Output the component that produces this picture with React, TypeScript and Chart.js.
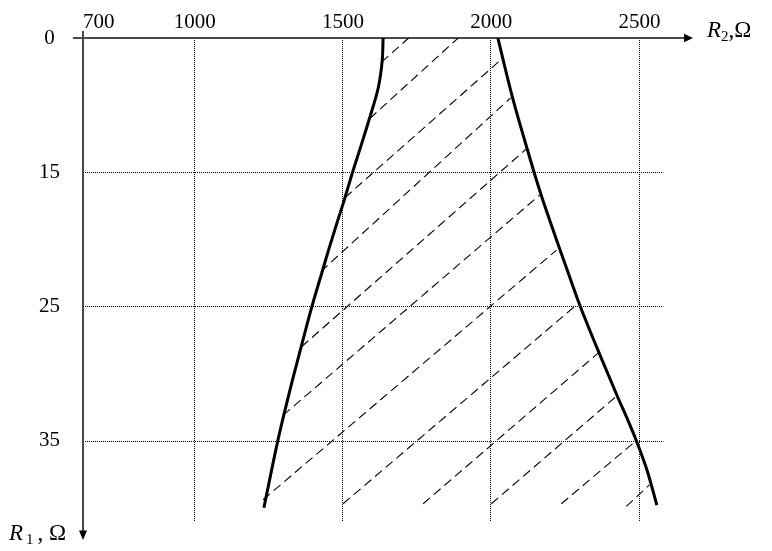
import React, { useEffect, useRef } from 'react';
import { Chart, registerables, LinearScale } from 'chart.js';

// ---- axis ticks ----
const R2_TICKS = [700, 1000, 1500, 2000, 2500]; // top axis, R2 (Ω)
const R1_TICKS = [0, 15, 25, 35]; // left axis (downwards), R1 (Ω)

// uneven axis steps: value -> equally spaced station
const R2_BREAK_VALUES = [700, 1000, 1500];
const R2_BREAK_UNITS = [0, 0.754, 1.754];
const R1_BREAK_VALUES = [0, 15, 25, 35];
const R1_BREAK_UNITS = [0, 1, 2, 3];
const R2_MAX = 2680;
const R1_MAX = 42.4;
const GRID_R2_END = 2580;
const GRID_R1_END = 41;

// ---- boundary curves ----
const LEFT_R1 = [0, 2.5, 5.5, 9, 12.2, 15, 17, 18.8, 20.8, 22.3, 25, 27.9, 30.5, 33.1, 35, 40];
const LEFT_R2 = [1635, 1632, 1619, 1589, 1559, 1532, 1505, 1479, 1451, 1431, 1395, 1360, 1329, 1300, 1280, 1233];

const RIGHT_R1 = [0, 2.9, 6.6, 11.4, 15, 16.9, 19.8, 22.3, 25, 28.5, 31.8, 33.5, 35, 37.2, 39.8];
const RIGHT_R2 = [2022, 2043, 2071, 2112, 2144, 2171, 2216, 2256, 2300, 2364, 2427, 2461, 2489, 2525, 2558];

// ---- hatch lines (start / end) ----
const HATCH_R2_FROM = [1630, 1590, 1506, 1425, 1360, 1298, 1230, 1500, 1770, 2000, 2236, 2455];
const HATCH_R1_FROM = [2.7, 9.0, 16.9, 22.4, 28.0, 33.1, 39.4, 39.7, 39.7, 39.7, 39.7, 39.9];
const HATCH_R2_TO = [1721, 1888, 2030, 2065, 2118, 2163, 2220, 2281, 2359, 2421, 2483, 2533];
const HATCH_R1_TO = [0, 0, 2.5, 6.7, 12.4, 16.7, 20.8, 25.0, 28.5, 31.7, 35.1, 38.3];

// ---- axis names ----
const X_TITLE = ['R', '2', ',Ω'];
const Y_TITLE = ['R', '1', ', Ω'];

const SERIF = "'Liberation Serif', 'Times New Roman', 'DejaVu Serif', serif";

type Breaks = { values: number[]; units: number[] };
const BREAKS: Record<string, Breaks> = {
  x: { values: R2_BREAK_VALUES, units: R2_BREAK_UNITS },
  y: { values: R1_BREAK_VALUES, units: R1_BREAK_UNITS },
};

function seg(v: number, arr: number[]) {
  const n = arr.length;
  if (v >= arr[n - 1]) return n - 2;
  let i = 0;
  while (i < n - 2 && v > arr[i + 1]) i++;
  return i;
}
function toUnit(v: number, b: Breaks) {
  const i = seg(v, b.values);
  const t = (v - b.values[i]) / (b.values[i + 1] - b.values[i]);
  return b.units[i] + t * (b.units[i + 1] - b.units[i]);
}
function fromUnit(u: number, b: Breaks) {
  const i = seg(u, b.units);
  const t = (u - b.units[i]) / (b.units[i + 1] - b.units[i]);
  return b.values[i] + t * (b.values[i + 1] - b.values[i]);
}

class BrokenAxisScale extends LinearScale {
  static id = 'brokenAxis';
  static defaults = LinearScale.defaults;
  getPixelForValue(value: any) {
    if (value === null || value === undefined || Number.isNaN(value)) return NaN;
    const b = BREAKS[(this as any).id];
    const u0 = toUnit((this as any).min, b);
    const u1 = toUnit((this as any).max, b);
    return (this as any).getPixelForDecimal((toUnit(value, b) - u0) / (u1 - u0));
  }
  getValueForPixel(pixel: number) {
    const b = BREAKS[(this as any).id];
    const u0 = toUnit((this as any).min, b);
    const u1 = toUnit((this as any).max, b);
    return fromUnit(u0 + (this as any).getDecimalForPixel(pixel) * (u1 - u0), b);
  }
}

Chart.register(...registerables, BrokenAxisScale as any);

function line(ctx: CanvasRenderingContext2D, x0: number, y0: number, x1: number, y1: number) {
  ctx.beginPath();
  ctx.moveTo(x0, y0);
  ctx.lineTo(x1, y1);
  ctx.stroke();
}

function drawName(
  ctx: CanvasRenderingContext2D,
  parts: string[],
  x: number,
  base: number,
  gapR: number,
  gapSub: number
) {
  ctx.fillStyle = '#000';
  ctx.textBaseline = 'alphabetic';
  ctx.textAlign = 'left';
  ctx.font = `italic 23px ${SERIF}`;
  ctx.fillText(parts[0], x, base);
  x += ctx.measureText(parts[0]).width + gapR;
  ctx.font = `15px ${SERIF}`;
  ctx.fillText(parts[1], x, base + 4);
  x += ctx.measureText(parts[1]).width + gapSub;
  ctx.font = `23px ${SERIF}`;
  ctx.fillText(parts[2], x, base);
}

const decorPlugin = {
  id: 'axesDecor',
  beforeDatasetsDraw(chart: any) {
    const { ctx } = chart;
    const x = chart.scales.x;
    const y = chart.scales.y;
    const top = y.getPixelForValue(0);
    const left = x.getPixelForValue(R2_TICKS[0]);
    const right = x.getPixelForValue(R2_MAX);
    const bottom = y.getPixelForValue(R1_MAX);
    ctx.save();
    ctx.strokeStyle = '#000';
    ctx.lineWidth = 1;
    ctx.setLineDash([1, 1]);
    const gy1 = y.getPixelForValue(GRID_R1_END);
    for (const v of R2_TICKS.slice(1)) {
      const px = Math.round(x.getPixelForValue(v)) - 0.5;
      line(ctx, px, top, px, gy1);
    }
    const gx1 = x.getPixelForValue(GRID_R2_END);
    for (const v of R1_TICKS.slice(1)) {
      const py = Math.round(y.getPixelForValue(v)) + 0.5;
      line(ctx, left, py, gx1, py);
    }
    ctx.setLineDash([]);
    ctx.strokeStyle = '#4a4a4a';
    ctx.lineWidth = 2;
    line(ctx, left - 10, top, right - 8, top);
    line(ctx, left, top - 7, left, bottom - 8);
    ctx.fillStyle = '#000';
    ctx.beginPath();
    ctx.moveTo(right, top);
    ctx.lineTo(right - 9, top - 4.2);
    ctx.lineTo(right - 9, top + 4.2);
    ctx.closePath();
    ctx.fill();
    ctx.beginPath();
    ctx.moveTo(left, bottom);
    ctx.lineTo(left - 4, bottom - 9.5);
    ctx.lineTo(left + 4, bottom - 9.5);
    ctx.closePath();
    ctx.fill();
    ctx.restore();
  },
  afterDraw(chart: any) {
    const { ctx } = chart;
    const x = chart.scales.x;
    const y = chart.scales.y;
    ctx.save();
    drawName(ctx, X_TITLE, x.getPixelForValue(R2_MAX) + 14, y.getPixelForValue(0) - 1, 0, 0);
    drawName(ctx, Y_TITLE, 9, y.getPixelForValue(R1_MAX), 3, 4);
    ctx.restore();
  },
};

export default function App() {
  const ref = useRef<HTMLCanvasElement | null>(null);
  useEffect(() => {
    if (!ref.current) return;
    const curve = (r2: number[], r1: number[]) => ({
      data: r2.map((v, i) => ({ x: v, y: r1[i] })),
      borderColor: '#000',
      borderWidth: 3,
      cubicInterpolationMode: 'monotone',
      pointRadius: 0,
      fill: false,
    });
    const hatches = HATCH_R2_FROM.map((v, i) => ({
      data: [
        { x: v, y: HATCH_R1_FROM[i] },
        { x: HATCH_R2_TO[i], y: HATCH_R1_TO[i] },
      ],
      borderColor: '#000',
      borderWidth: 1.1,
      borderDash: [9, 5],
      pointRadius: 0,
      tension: 0,
      fill: false,
    }));
    const tickFont = { family: SERIF, size: 21 };
    const chart = new Chart(ref.current, {
      type: 'line',
      data: { datasets: [curve(LEFT_R2, LEFT_R1), curve(RIGHT_R2, RIGHT_R1), ...hatches] as any },
      options: {
        indexAxis: 'y',
        responsive: false,
        animation: false,
        events: [],
        layout: { padding: { left: 0, top: 0, right: 79, bottom: 11 } },
        plugins: { legend: { display: false }, tooltip: { enabled: false } },
        scales: {
          x: {
            type: 'brokenAxis' as any,
            position: 'top',
            min: R2_TICKS[0],
            max: R2_MAX,
            afterBuildTicks: (s: any) => {
              s.ticks = [...R2_TICKS, R2_MAX].map((value) => ({ value }));
            },
            afterFit: (s: any) => {
              s.height = 38;
              s.paddingLeft = 0;
              s.paddingRight = 0;
            },
            grid: { display: false, drawTicks: false },
            border: { display: false },
            ticks: {
              align: 'inner',
              autoSkip: false,
              maxRotation: 0,
              padding: 3,
              color: '#000',
              font: tickFont,
              callback: (v: any) => (v === R2_MAX ? '' : String(v)),
            },
          } as any,
          y: {
            type: 'brokenAxis' as any,
            position: 'left',
            reverse: true,
            min: R1_TICKS[0],
            max: R1_MAX,
            afterBuildTicks: (s: any) => {
              s.ticks = R1_TICKS.map((value) => ({ value }));
            },
            afterFit: (s: any) => {
              s.width = 83;
              s.paddingTop = 0;
              s.paddingBottom = 0;
            },
            grid: { display: false, drawTicks: false },
            border: { display: false },
            ticks: {
              autoSkip: false,
              padding: 23,
              color: '#000',
              font: tickFont,
              callback: (v: any) => (v === 0 ? '0 ' : String(v)),
            },
          } as any,
        },
      } as any,
      plugins: [decorPlugin],
    });
    return () => chart.destroy();
  }, []);
  return (
    <div style={{ position: 'fixed', left: 0, top: 0, width: 772, height: 551, background: '#fff' }}>
      <canvas ref={ref} width={772} height={551} style={{ display: 'block' }} />
    </div>
  );
}
